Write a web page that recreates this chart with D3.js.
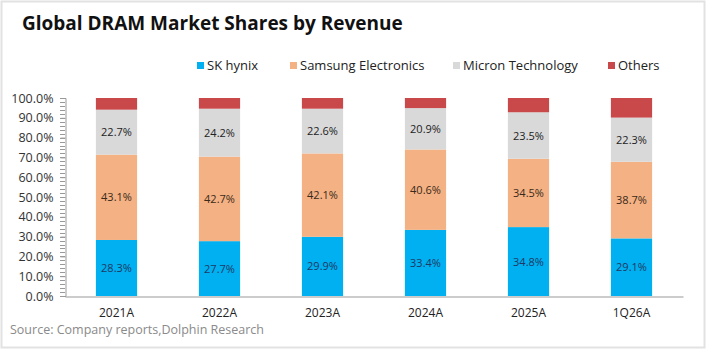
<!DOCTYPE html>
<html>
<head>
<meta charset="utf-8">
<script src="https://cdn.jsdelivr.net/npm/d3@7"></script>
<style>
  body { margin: 0; background: #fff; }
  svg { display: block; font-family: "Open Sans", "Noto Sans", sans-serif; }
</style>
</head>
<body>
<svg id="chart"></svg>
<script>
// data
var periods = ["2021A", "2022A", "2023A", "2024A", "2025A", "1Q26A"];
var skHynix = [28.3, 27.7, 29.9, 33.4, 34.8, 29.1];
var samsung = [43.1, 42.7, 42.1, 40.6, 34.5, 38.7];
var micron  = [22.7, 24.2, 22.6, 20.9, 23.5, 22.3];
var others  = [5.9, 5.4, 5.4, 5.1, 7.2, 9.9];
var seriesNames = ["SK hynix", "Samsung Electronics", "Micron Technology", "Others"];
var yTicks = [0, 10, 20, 30, 40, 50, 60, 70, 80, 90, 100];

var width = 707, height = 350;
var colors = ["#00B0F0", "#F4B183", "#D9D9D9", "#C9494B"];
var labelColors = ["#1F3864", "#3a2a1a", "#222", null];

var svg = d3.select("#chart").attr("width", width).attr("height", height);

// outer frame
svg.append("rect")
    .attr("x", 1.5).attr("y", 1.5)
    .attr("width", width - 4).attr("height", height - 4)
    .attr("fill", "#fff").attr("stroke", "#e2e2e2").attr("stroke-width", 2);

svg.append("text")
    .attr("x", 22).attr("y", 30)
    .style("font-size", "19px").style("font-weight", "bold")
    .style("fill", "#111")
    .text("Global DRAM Market Shares by Revenue");

// build rows for stacking
var rows = periods.map(function (p, i) {
    return { period: p, "SK hynix": skHynix[i], "Samsung Electronics": samsung[i],
             "Micron Technology": micron[i], "Others": others[i] };
});
var stacked = d3.stack().keys(seriesNames)(rows);

var x = d3.scaleBand().domain(periods).range([65, 683]).paddingInner(0.6).paddingOuter(0.3);
var y = d3.scaleLinear().domain([0, 100]).range([296, 98]);

// y axis with minor ticks
var minor = d3.range(0, 101, 2);
svg.append("g")
    .selectAll("line").data(minor).enter().append("line")
    .attr("x1", 60).attr("x2", 65)
    .attr("y1", function (d) { return Math.round(y(d)) + 0.5; })
    .attr("y2", function (d) { return Math.round(y(d)) + 0.5; })
    .attr("stroke", "#999");

var yAxis = svg.append("g")
    .attr("transform", "translate(65.5,0)")
    .call(d3.axisLeft(y).tickValues(yTicks).tickSize(5)
        .tickFormat(function (d) { return d.toFixed(1) + "%"; }));
yAxis.select(".domain").attr("stroke", "#999");
yAxis.selectAll(".tick line").attr("stroke", "#999");
yAxis.selectAll("text").attr("x", -12)
    .style("font-size", "12.5px").style("fill", "#333")
    .style("font-family", "'Open Sans', 'Noto Sans', sans-serif");

// bars
var layer = svg.append("g").selectAll("g")
    .data(stacked).enter().append("g")
    .attr("fill", function (d, i) { return colors[i]; });

layer.selectAll("rect")
    .data(function (d) { return d; })
    .enter().append("rect")
    .attr("x", function (d) { return x(d.data.period); })
    .attr("width", x.bandwidth())
    .attr("y", function (d) { return y(d[1]); })
    .attr("height", function (d) { return y(d[0]) - y(d[1]); });

// value labels
stacked.forEach(function (s, si) {
    if (!labelColors[si]) return;
    svg.append("g").selectAll("text")
        .data(s).enter().append("text")
        .attr("x", function (d) { return x(d.data.period) + x.bandwidth() / 2; })
        .attr("y", function (d) { return (y(d[0]) + y(d[1])) / 2 + 4; })
        .attr("text-anchor", "middle")
        .style("font-size", "11px")
        .style("fill", labelColors[si])
        .text(function (d) { return (d[1] - d[0]).toFixed(1) + "%"; });
});

// x axis
var xAxis = svg.append("g")
    .attr("transform", "translate(0,296.5)")
    .call(d3.axisBottom(x).tickSize(0).tickPadding(12));
xAxis.select(".domain").attr("stroke", "#999");
xAxis.selectAll("text")
    .style("font-size", "12px").style("fill", "#222")
    .style("font-family", "'Open Sans', 'Noto Sans', sans-serif");

// legend
var legendX = [197, 290, 453, 608];
var legend = svg.append("g").selectAll("g")
    .data(seriesNames).enter().append("g")
    .attr("transform", function (d, i) { return "translate(" + legendX[i] + ",62)"; });
legend.append("rect")
    .attr("width", 7).attr("height", 7)
    .attr("fill", function (d, i) { return colors[i]; });
legend.append("text")
    .attr("x", 10).attr("y", 8)
    .style("font-size", "13px").style("fill", "#222")
    .text(function (d) { return d; });

svg.append("text")
    .attr("x", 10).attr("y", 334)
    .style("font-size", "12.5px").style("fill", "#8a8a8a")
    .text("Source: Company reports,Dolphin Research");
</script>
</body>
</html>
